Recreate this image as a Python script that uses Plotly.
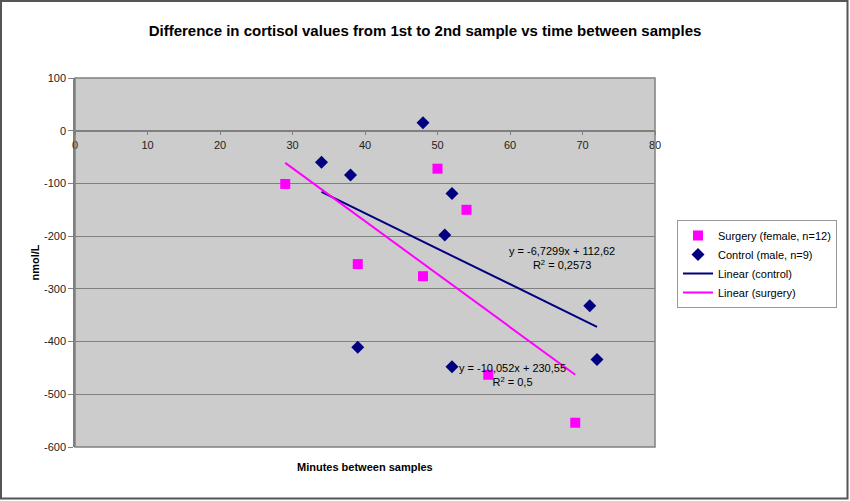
import numpy as np
import plotly.graph_objects as go

# ---- data ----
surgery_x = [29, 39, 48, 50, 54, 57, 69]
surgery_y = [-101, -253, -276, -72, -150, -463, -554]

control_x = [34, 38, 39, 48, 51, 52, 52, 71, 72]
control_y = [-60, -84, -411, 15, -198, -119, -448, -332, -434]

control_slope, control_intercept = -6.7299, 112.62
surgery_slope, surgery_intercept = -10.052, 230.55

control_eq = "y = -6,7299x + 112,62<br>R<sup>2</sup> = 0,2573"
surgery_eq = "y = -10,052x + 230,55<br>R<sup>2</sup> = 0,5"

x_ticks = [0, 10, 20, 30, 40, 50, 60, 70, 80]
y_ticks = [100, 0, -100, -200, -300, -400, -500, -600]
y_ticklabels = ["100", "0", "-100", "-200", "-300", "-400", "-500", "-600"]

FONT = "Liberation Sans, Arial, sans-serif"
W, H = 850, 501
ML, MR, MT, MB = 75, 195, 78, 54
PW, PH = W - ML - MR, H - MT - MB

fig = go.Figure()

fig.add_trace(go.Scatter(
    x=surgery_x, y=surgery_y, mode="markers", name="Surgery (female, n=12)",
    marker=dict(symbol="square", size=10, color="#FF00FF"),
))
fig.add_trace(go.Scatter(
    x=control_x, y=control_y, mode="markers", name="Control (male, n=9)",
    marker=dict(symbol="diamond", size=10, color="#000080"),
))

cx = np.array([min(control_x), max(control_x)], dtype=float)
fig.add_trace(go.Scatter(
    x=cx, y=control_slope * cx + control_intercept, mode="lines",
    name="Linear (control)", line=dict(color="#000080", width=2),
))
sx = np.array([min(surgery_x), max(surgery_x)], dtype=float)
fig.add_trace(go.Scatter(
    x=sx, y=surgery_slope * sx + surgery_intercept, mode="lines",
    name="Linear (surgery)", line=dict(color="#FF00FF", width=2),
))

fig.add_annotation(x=67.2, y=-242, text=control_eq, showarrow=False,
                   font=dict(family=FONT, size=11, color="#000000"), align="center")
fig.add_annotation(x=60.3, y=-463, text=surgery_eq, showarrow=False,
                   font=dict(family=FONT, size=11, color="#000000"), align="center")

# x axis title
fig.add_annotation(x=0.5, y=-(466.7 - (H - MB)) / PH, xref="paper", yref="paper",
                   yanchor="middle",
                   text="<b>Minutes between samples</b>", showarrow=False,
                   font=dict(family=FONT, size=11, color="#000000"))

# outer frame
fig.add_shape(type="rect", xref="paper", yref="paper",
              x0=(1 - ML) / PW, x1=(W - ML - 2.5) / PW,
              y0=-(MB - 2.5) / PH, y1=1 + (MT - 1) / PH,
              line=dict(color="#555555", width=2), layer="above")
# plot-area border
fig.add_shape(type="rect", xref="paper", yref="paper", x0=0, x1=1, y0=0, y1=1,
              line=dict(color="#808080", width=1.5), layer="above")

ymin, ymax = -600, 100
fig.update_layout(
    width=W, height=H,
    margin=dict(l=ML, r=MR, t=MT, b=MB),
    paper_bgcolor="white", plot_bgcolor="#CCCCCC",
    font=dict(family=FONT, size=11, color="#000000"),
    title=dict(text="<b>Difference in cortisol values from 1st to 2nd sample vs time between samples</b>",
               x=0.5, xref="container", xanchor="center", y=1 - 31 / H, yanchor="middle",
               font=dict(family=FONT, size=15, color="#000000")),
    xaxis=dict(range=[0, 80], tickvals=x_ticks, showgrid=False, zeroline=False,
               anchor="free", position=(0 - ymin) / (ymax - ymin),
               showline=True, linecolor="#808080", linewidth=1.5,
               ticks="outside", ticklen=4, tickcolor="#808080",
               tickfont=dict(family=FONT, size=11, color="#222222")),
    yaxis=dict(range=[ymin, ymax], tickvals=y_ticks, ticktext=y_ticklabels,
               showgrid=True, gridcolor="#808080",
               gridwidth=1, zeroline=False, showline=True, linecolor="#808080", linewidth=1.5,
               ticks="outside", ticklen=5, tickcolor="#808080",
               tickfont=dict(family=FONT, size=11, color="#222222"),
               title=dict(text="<b>nmol/L</b>", standoff=2,
                          font=dict(family=FONT, size=11, color="#000000"))),
    legend=dict(x=(677 - ML) / PW, y=1 - (220 - MT) / PH,
                xanchor="left", yanchor="top", bgcolor="white",
                bordercolor="#999999", borderwidth=1,
                font=dict(family=FONT, size=11, color="#000000"),
                tracegroupgap=0),
    showlegend=True,
)

fig.write_html("out.html", config={"displayModeBar": False},
               post_script="document.body.style.margin='0px';")
